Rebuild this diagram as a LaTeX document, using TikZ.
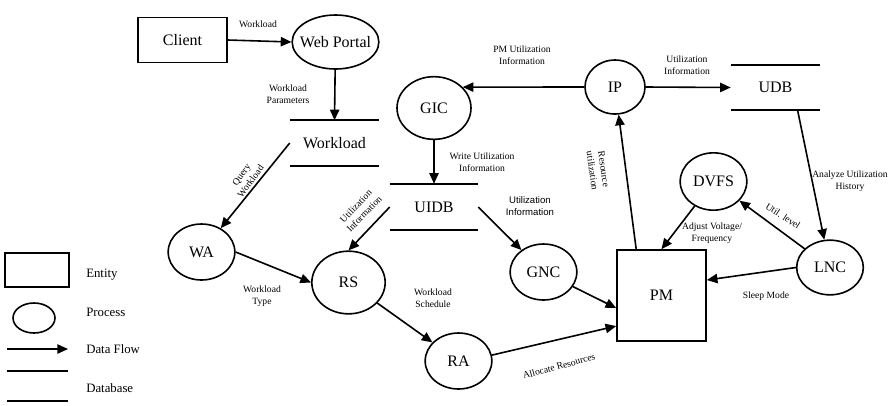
\documentclass[tikz,border=0pt]{standalone}
\usepackage{fontspec}
\setmainfont{Liberation Serif}
\newfontfamily\arialfont{Liberation Sans}
\usepackage{tikz}
\usetikzlibrary{arrows.meta,shapes.geometric}
\tikzset{
  ent/.style={draw,line width=1.2pt,inner sep=0pt,minimum width=66.75pt,font=\fontsize{12}{14}\selectfont},
  proc/.style={draw,ellipse,line width=1.2pt,inner sep=0pt,minimum width=50pt,minimum height=42pt,font=\fontsize{12}{14}\selectfont},
  dbase/.style={inner sep=0pt,minimum width=66.75pt,minimum height=33.75pt,font=\fontsize{12}{14}\selectfont},
  dbline/.style={line width=1.2pt},
  flow/.style={-{Triangle[length=8pt,width=7pt]},line width=1.2pt},
  lbl/.style={font=\fontsize{7.2}{8.6}\selectfont,align=center,inner sep=0pt},
  lgd/.style={font=\fontsize{9.6}{11}\selectfont,anchor=west,inner sep=0pt}
}

\begin{document}
\begin{tikzpicture}[x=0.75pt,y=-0.75pt]
  \useasboundingbox (0,0) rectangle (889,405);
  \node[ent,minimum height=33.75pt] (client) at (182.5,40) {Client};
  \node[proc,minimum width=65pt,minimum height=40.5pt,inner xsep=-4pt] (portal) at (335.5,42) {Web Portal};
  \node[dbase] (wl) at (334.5,143) {Workload};
  \node[proc,minimum width=55.5pt,minimum height=47pt] (gic) at (434,108) {GIC};
  \node[proc,minimum width=45pt,minimum height=40.5pt] (ip) at (615,87) {IP};
  \node[dbase] (udb) at (775.5,87.5) {UDB};
  \node[dbase,minimum width=66pt,minimum height=34.5pt] (uidb) at (434,207) {UIDB};
  \node[proc] (wa) at (201.5,252) {WA};
  \node[proc,minimum width=55pt,minimum height=47pt] (rs) at (348.5,282.5) {RS};
  \node[proc] (ra) at (458.5,361) {RA};
  \node[proc] (gnc) at (543.5,272) {GNC};
  \node[ent,minimum height=68.25pt] (pm) at (661.5,295.5) {PM};
  \node[proc,minimum height=43pt] (dvfs) at (713.5,181.5) {DVFS};
  \node[proc,minimum height=41pt] (lnc) at (830,267.5) {LNC};
  \foreach \d in {wl,uidb,udb} \draw[dbline] (\d.north west) -- (\d.north east) (\d.south west) -- (\d.south east);

  \draw[flow] (client.east) -- (portal.west);
  \draw[flow] (portal) -- (wl.north);
  \draw[flow] (wl.west) -- (wa);
  \draw[flow] (ip.west) -- (gic.36);
  \draw[flow] (ip.east) -- (udb.west);
  \draw[flow] (gic) -- (uidb.north);
  \draw[flow] (uidb.west) -- (rs.north);
  \draw[flow] (uidb.east) -- (gnc);
  \draw[flow] (wa.east) -- (rs.west);
  \draw[flow] (rs) -- (ra);
  \draw[flow] (ra.10) -- ([yshift=-22.9pt]pm.west);
  \draw[flow] (gnc) -- ([yshift=-9.4pt]pm.west);
  \draw[flow] ([xshift=15pt]pm.north west) -- (ip);
  \draw[flow] (dvfs) -- (pm.north);
  \draw[flow] (lnc) -- (dvfs);
  \draw[flow] (lnc.west) -- ([yshift=11.6pt]pm.east);
  \draw[flow] ([xshift=-17pt]udb.south east) -- (lnc);

  \node[lbl] (l1) at (258,24) {Workload};
  \node[lbl] (l2) at (288,94) {Workload\\Parameters};
  \node[lbl,rotate=54] (l3) at (246,178) {Query\\Workload};
  \node[lbl] (l4) at (522,55) {PM Utilization\\Information};
  \node[lbl] (l5) at (687,65) {Utilization\\Information};
  \node[lbl] (l6) at (482,162) {Write Utilization\\Information};
  \node[lbl,rotate=46] (l7) at (360,210) {Utilization\\Information};
  \node[lbl,font=\arialfont\fontsize{7.2}{8.6}\selectfont] (l8) at (530,206) {Utilization\\Information};
  \node[lbl] (l9) at (262,296) {Workload\\Type};
  \node[lbl] (l10) at (433,298) {Workload\\Schedule};
  \node[lbl,rotate=15] (l11) at (559,366) {Allocate Resources};
  \node[lbl,rotate=-82] (l12) at (598,170) {Resource\\utilization};
  \node[lbl] (l13) at (712,233) {Adjust Voltage/\\Frequency};
  \node[lbl,rotate=-33] (l14) at (783,216) {Util. level};
  \node[lbl] (l15) at (766,296) {Sleep Mode};
  \node[lbl] (l16) at (850,181) {Analyze Utilization\\History};

  \node[ent,minimum width=48pt,minimum height=25.5pt] (lgent) at (37,270) {};
  \node[proc,minimum width=31.5pt,minimum height=22.5pt] (lgproc) at (34,318) {};
  \coordinate (lgfa) at (7,349);
  \coordinate (lgfb) at (68,349);
  \draw[flow] (lgfa) -- (lgfb);
  \node[dbase,minimum width=45.75pt,minimum height=22.5pt] (lgdb) at (37.5,386) {};
  \draw[dbline] (lgdb.north west) -- (lgdb.north east) (lgdb.south west) -- (lgdb.south east);
  \node[lgd] (lgt1) at (86,275) {Entity};
  \node[lgd] (lgt2) at (86,312) {Process};
  \node[lgd] (lgt3) at (86,349) {Data Flow};
  \node[lgd] (lgt4) at (86,388) {Database};
\end{tikzpicture}
\end{document}
